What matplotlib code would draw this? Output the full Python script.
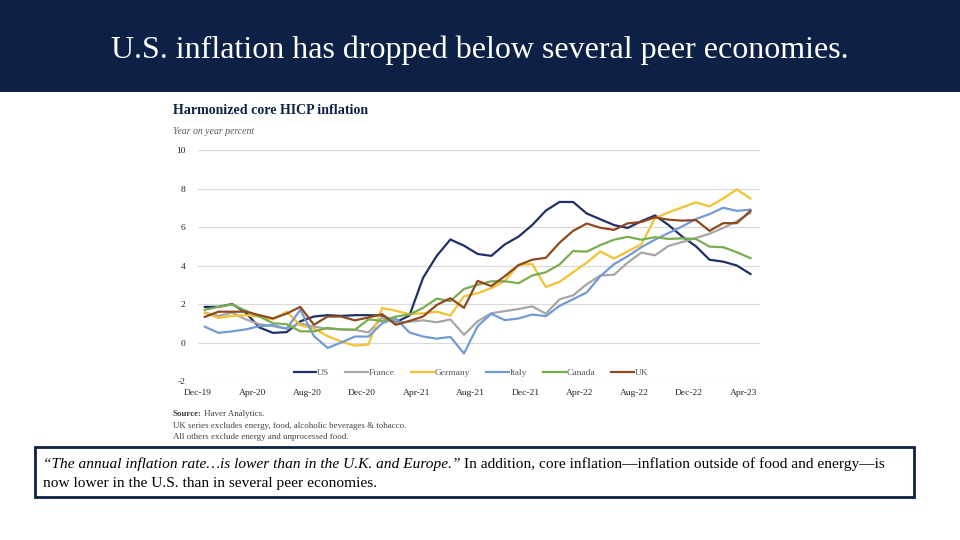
import matplotlib
matplotlib.use("Agg")
import matplotlib.pyplot as plt
from matplotlib.patches import Rectangle
import numpy as np

plt.rcParams['font.family'] = ['Liberation Serif', 'DejaVu Serif']
plt.rcParams['axes.unicode_minus'] = False

months = ["Dec-19", "Apr-20", "Aug-20", "Dec-20", "Apr-21", "Aug-21",
          "Dec-21", "Apr-22", "Aug-22", "Dec-22", "Apr-23"]

us = [1.85, 1.85, 2.0, 1.55, 0.78, 0.5, 0.54, 1.1, 1.35, 1.42, 1.38, 1.42, 1.42, 1.4,
      1.05, 1.4, 3.36, 4.5, 5.35, 5.03, 4.6, 4.5, 5.1, 5.5, 6.1, 6.85, 7.3, 7.3, 6.7,
      6.4, 6.1, 5.95, 6.3, 6.6, 6.1, 5.5, 5.0, 4.3, 4.2, 4.0, 3.56]
france = [1.55, 1.38, 1.55, 1.2, 0.95, 0.85, 0.72, 1.0, 0.82, 0.72, 0.68, 0.66, 0.52,
          1.3, 1.03, 1.08, 1.15, 1.05, 1.2, 0.4, 1.1, 1.52, 1.63, 1.74, 1.88, 1.5, 2.24,
          2.45, 3.03, 3.48, 3.52, 4.15, 4.67, 4.53, 5.02, 5.22, 5.43, 5.65, 5.95, 6.3, 6.73]
germany = [1.55, 1.28, 1.38, 1.42, 1.35, 1.2, 1.6, 0.9, 0.72, 0.33, 0.05, -0.16, -0.1,
           1.79, 1.65, 1.47, 1.52, 1.6, 1.4, 2.4, 2.56, 2.82, 3.2, 4.03, 4.08, 2.88, 3.15,
           3.65, 4.15, 4.73, 4.36, 4.73, 5.1, 6.45, 6.76, 7.02, 7.28, 7.07, 7.48, 7.95, 7.48]
italy = [0.82, 0.5, 0.58, 0.68, 0.85, 0.9, 0.72, 1.7, 0.33, -0.28, 0.0, 0.31, 0.31, 1.0,
         1.26, 0.52, 0.31, 0.2, 0.29, -0.57, 0.85, 1.49, 1.16, 1.25, 1.45, 1.37, 1.9, 2.25,
         2.6, 3.45, 4.07, 4.48, 4.95, 5.34, 5.69, 6.03, 6.41, 6.67, 7.0, 6.84, 6.9]
canada = [1.7, 1.85, 1.98, 1.65, 1.35, 1.0, 0.95, 0.58, 0.58, 0.75, 0.68, 0.66, 1.2, 1.12,
          1.35, 1.45, 1.8, 2.28, 2.15, 2.78, 3.0, 3.18, 3.18, 3.08, 3.48, 3.65, 4.05, 4.75,
          4.72, 5.06, 5.34, 5.49, 5.34, 5.47, 5.38, 5.41, 5.38, 4.98, 4.95, 4.69, 4.38]
uk = [1.33, 1.6, 1.6, 1.6, 1.42, 1.25, 1.5, 1.85, 0.92, 1.35, 1.35, 1.15, 1.3, 1.47, 0.92,
      1.12, 1.35, 1.95, 2.3, 1.8, 3.2, 2.93, 3.45, 4.02, 4.3, 4.4, 5.18, 5.8, 6.18, 5.96,
      5.85, 6.19, 6.26, 6.5, 6.38, 6.33, 6.36, 5.8, 6.2, 6.2, 6.84]

series = [("US", us, "#1f3068"), ("France", france, "#a6a6a6"),
          ("Germany", germany, "#f2c230"), ("Italy", italy, "#729ad6"),
          ("Canada", canada, "#79ad4f"), ("UK", uk, "#8e4a1e")]

navy = "#0d2147"
W, H = 960, 540
fig = plt.figure(figsize=(9.6, 5.4), dpi=100)
fig.patch.set_facecolor("white")

# header band
fig.patches.append(Rectangle((0, 1 - 92 / H), 1, 92 / H, transform=fig.transFigure,
                             facecolor=navy, edgecolor="none", zorder=0))
fig.text(0.5, 1 - 50 / H, "U.S. inflation has dropped below several peer economies.",
         color="white", fontsize=23, ha="center", va="center")

# chart titles
fig.text(173 / W, 1 - 110 / H, "Harmonized core HICP inflation", color=navy,
         fontsize=10.1, fontweight="bold", ha="left", va="center")
fig.text(173 / W, 1 - 132 / H, "Year on year percent", color="#595959",
         fontsize=7, style="italic", ha="left", va="center")

ax = fig.add_axes([198 / W, 1 - 381 / H, (760 - 198) / W, (381 - 150) / H])
x = np.arange(len(us))
for name, vals, col in series:
    ax.plot(x, vals, color=col, lw=1.6, label=name, solid_joinstyle="round")

ax.set_ylim(-2, 10)
ax.set_yticks(np.arange(-2, 11, 2))
ax.set_xlim(-0.5, 40.7)
ax.set_xticks(np.arange(0, 41, 4) - 0.5)
ax.set_xticklabels(months)
ax.grid(axis="y", color="#d9d9d9", lw=0.8)
ax.set_axisbelow(True)
for s in ax.spines.values():
    s.set_visible(False)
ax.tick_params(axis="both", length=0, labelsize=6.8, colors="#222222")
ax.tick_params(axis="y", pad=9)
ax.tick_params(axis="x", pad=6)

leg = ax.legend(loc="center", bbox_to_anchor=(0.486, 0.035), ncol=6, frameon=False,
                fontsize=6.8, handlelength=2.4, handletextpad=0.1, columnspacing=1.7)
for t in leg.get_texts():
    t.set_color("#595959")

# footnotes
fs = 6.4
src = fig.text(173 / W, 1 - 414 / H, "Source:", fontsize=fs, fontweight="bold",
               color="#404040", ha="left", va="center")
fig.canvas.draw()
sb = src.get_window_extent()
fig.text(sb.x1 / W, 1 - 414 / H, " Haver Analytics.", fontsize=fs,
         color="#404040", ha="left", va="center")
fig.text(173 / W, 1 - 426 / H, "UK series excludes energy, food, alcoholic beverages & tobacco.",
         fontsize=fs, color="#404040", ha="left", va="center")
fig.text(173 / W, 1 - 437 / H, "All others exclude energy and unprocessed food.",
         fontsize=fs, color="#404040", ha="left", va="center")

# quote box
fig.patches.append(Rectangle((35 / W, 1 - 497 / H), (914 - 35) / W, (497 - 447) / H,
                             transform=fig.transFigure, facecolor="white",
                             edgecolor=navy, lw=2, zorder=1))
bfs = 11.1
t1 = fig.text(43 / W, 1 - 464 / H,
              "\u201cThe annual inflation rate\u2026is lower than in the U.K. and Europe.\u201d",
              fontsize=bfs, style="italic", ha="left", va="center", zorder=2)
fig.canvas.draw()
bb = t1.get_window_extent()
fig.text(bb.x1 / W, 1 - 464 / H,
         " In addition, core inflation\u2014inflation outside of food and energy\u2014is",
         fontsize=bfs, ha="left", va="center", zorder=2)
fig.text(43 / W, 1 - 483 / H, "now lower in the U.S. than in several peer economies.",
         fontsize=bfs, ha="left", va="center", zorder=2)

fig.savefig("out.png", dpi=100)
